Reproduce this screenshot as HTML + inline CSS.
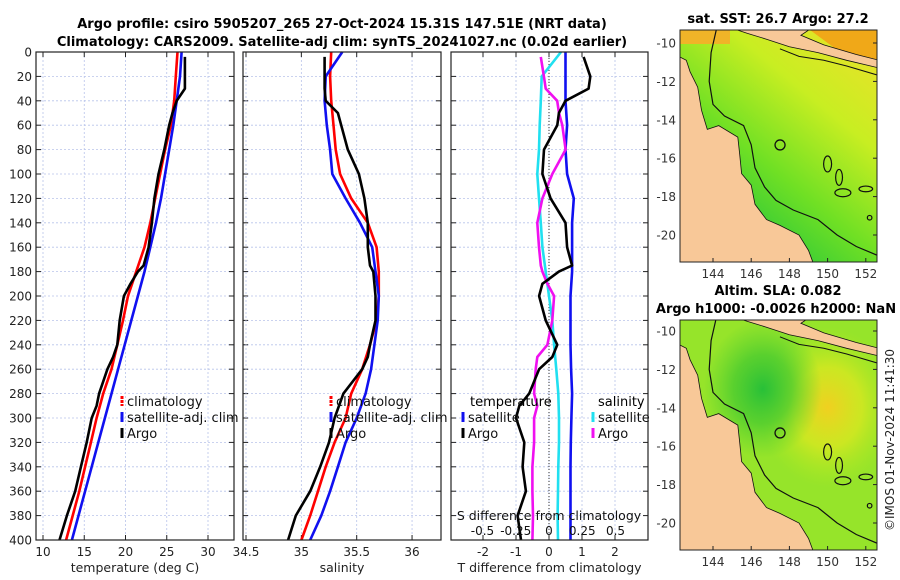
<!DOCTYPE html>
<html><head><meta charset="utf-8"><style>
html,body{margin:0;padding:0;background:#fff;}
svg{display:block;font-family:"DejaVu Sans","Liberation Sans",sans-serif;}
</style></head><body>
<svg id="c" width="900" height="580" viewBox="0 0 900 580" xmlns="http://www.w3.org/2000/svg">
<defs>
<linearGradient id="sstg" x1="1" y1="0" x2="0.3" y2="1">
<stop offset="0" stop-color="#eee02a"/><stop offset="0.35" stop-color="#c8ee22"/><stop offset="0.65" stop-color="#70e024"/><stop offset="1" stop-color="#18c040"/>
</linearGradient>
<radialGradient id="slay" cx="0.75" cy="0.38" r="0.35"><stop offset="0" stop-color="#f0d020"/><stop offset="0.5" stop-color="#d8e820" stop-opacity="0.8"/><stop offset="1" stop-color="#b0ea20" stop-opacity="0"/></radialGradient>
<radialGradient id="slag" cx="0.42" cy="0.3" r="0.3"><stop offset="0" stop-color="#28c038"/><stop offset="0.5" stop-color="#40c830" stop-opacity="0.7"/><stop offset="1" stop-color="#50d030" stop-opacity="0"/></radialGradient>
<clipPath id="cm1"><rect x="680" y="30" width="197" height="232"/></clipPath>
<clipPath id="cm2"><rect x="680" y="320" width="197" height="230"/></clipPath>
</defs>
<g id="titles">
<text x="342" y="28" text-anchor="middle" font-size="13" font-weight="bold">Argo profile: csiro 5905207_265 27-Oct-2024 15.31S 147.51E (NRT data)</text>
<text x="342" y="46" text-anchor="middle" font-size="13" font-weight="bold">Climatology: CARS2009. Satellite-adj clim: synTS_20241027.nc (0.02d earlier)</text>
<text x="778" y="23" text-anchor="middle" font-size="13" font-weight="bold">sat. SST: 26.7 Argo: 27.2</text>
<text x="778" y="295" text-anchor="middle" font-size="13" font-weight="bold">Altim. SLA: 0.082</text>
<text x="776" y="313" text-anchor="middle" font-size="13" font-weight="bold">Argo h1000: -0.0026 h2000: NaN</text>
<text transform="translate(894,440) rotate(-90)" text-anchor="middle" font-size="12" fill="#222">©IMOS 01-Nov-2024 11:41:30</text>
</g>
<g id="plots"></g>
<g id="maps"></g>
</svg>
<script>
// ---------- data ----------
const depths = [0,20,40,60,80,100,120,140,160,180,200,220,240,260,280,300,320,340,360,380,400];
const tempClim = [26.3,26.1,25.9,25.5,24.8,24.2,23.6,23.0,22.3,21.3,20.3,19.7,19.0,18.3,17.3,16.5,15.8,15.1,14.4,13.6,12.8];
const tempSat = [26.8,26.6,26.2,25.8,25.3,24.8,24.3,23.7,23.0,22.3,21.5,20.7,19.9,19.1,18.3,17.5,16.7,15.9,15.1,14.3,13.5];
const argoDepths = [4,20,30,40,50,60,80,100,120,140,160,175,180,190,200,220,240,250,260,280,290,300,320,340,360,380,400];
const tempArgo = [27.2,27.2,27.2,26.2,25.7,25.3,24.7,24.0,23.5,23.2,22.8,22.2,21.5,20.6,19.8,19.3,19.0,18.5,17.8,16.8,16.5,15.9,15.3,14.6,13.9,12.9,12.0];
const salClim = [35.27,35.26,35.27,35.29,35.31,35.35,35.45,35.6,35.68,35.7,35.7,35.68,35.62,35.55,35.45,35.4,35.3,35.22,35.15,35.08,35.0];
const salSat = [35.37,35.22,35.21,35.23,35.26,35.28,35.4,35.53,35.64,35.67,35.7,35.69,35.66,35.63,35.58,35.5,35.4,35.33,35.26,35.18,35.08];
const salArgo = [35.21,35.21,35.21,35.22,35.33,35.36,35.42,35.52,35.57,35.6,35.6,35.62,35.65,35.66,35.67,35.67,35.62,35.6,35.55,35.38,35.34,35.3,35.25,35.17,35.08,34.95,34.88];
const tDiffSat = [0.5,0.5,0.5,0.55,0.5,0.55,0.75,0.7,0.7,0.7,0.65,0.65,0.65,0.67,0.7,0.68,0.66,0.65,0.65,0.65,0.65];
const tDiffArgo = [1.05,1.25,1.2,0.5,0.3,0.25,-0.15,-0.2,0.05,0.5,0.55,0.7,0.3,-0.2,-0.3,-0.1,0.25,0.1,-0.3,-0.6,-0.9,-1.0,-0.75,-0.8,-0.7,-0.95,-0.85];
const sDiffSat = [0.09,-0.055,-0.062,-0.07,-0.075,-0.088,-0.075,-0.062,-0.05,-0.025,0,0.025,0.038,0.055,0.07,0.075,0.075,0.07,0.068,0.065,0.068];
const sDiffArgo = [-0.062,-0.038,-0.025,0.062,0.075,0.1,0.125,0.025,-0.05,-0.088,-0.075,-0.062,-0.05,-0.012,0.038,0.025,-0.012,-0.088,-0.1,-0.112,-0.088,-0.112,-0.112,-0.125,-0.125,-0.12,-0.125];
const depthTicks = [0,20,40,60,80,100,120,140,160,180,200,220,240,260,280,300,320,340,360,380,400];
const tempTicks = [10,15,20,25,30];
const salTicks = [34.5,35,35.5,36];
const tdTicks = [-2,-1,0,1,2];
const sdTicks = [-0.5,-0.25,0,0.25,0.5];

const NS="http://www.w3.org/2000/svg";
function mk(tag,attrs,parent,txt){const e=document.createElementNS(NS,tag);for(const k in attrs)e.setAttribute(k,attrs[k]);if(txt!==undefined)e.textContent=txt;parent.appendChild(e);return e;}
const plots=document.getElementById('plots');
const yD = d => 52 + d*(540-52)/400;
const xT = v => 43 + (v-10)*8.25;
const xS = v => 246 + (v-34.5)*110.7;
const xTD = v => 549 + v*33;
const xSD = v => 549 + v*133;

function panel(x0,x1,name,xf,ticks,xlab,showY){
  const g=mk('g',{},plots);
  
  
  depthTicks.forEach(d=>{mk('line',{x1:x0,x2:x1,y1:yD(d),y2:yD(d),stroke:'#b8c4ea','stroke-width':0.8,'stroke-dasharray':'2,2'},g);
    mk('line',{x1:x0,x2:x0+5,y1:yD(d),y2:yD(d),stroke:'#222'},g);mk('line',{x1:x1-5,x2:x1,y1:yD(d),y2:yD(d),stroke:'#222'},g);
    if(showY){const t=mk('text',{x:x0-4,y:yD(d)+4.5,'text-anchor':'end','font-size':12,fill:'#222'},g,String(d));}
  });
  ticks.forEach(v=>{const x=xf(v);mk('line',{x1:x,x2:x,y1:52,y2:540,stroke:'#b8c4ea','stroke-width':0.8,'stroke-dasharray':'2,2'},g);
    mk('line',{x1:x,x2:x,y1:540,y2:535,stroke:'#222'},g);mk('line',{x1:x,x2:x,y1:52,y2:57,stroke:'#222'},g);
    const t=mk('text',{x:x,y:556,'text-anchor':'middle','font-size':12,fill:'#222'},g,String(v));});
  const l=mk('text',{x:(x0+x1)/2,y:572,'text-anchor':'middle','font-size':12.5,fill:'#222'},g,xlab);
  
  return g;
}
function line(g,xs,ds,xf,color,name){
  const p=mk('polyline',{points:xs.map((v,i)=>xf(v).toFixed(1)+','+yD(ds[i]).toFixed(1)).join(' '),fill:'none',stroke:color,'stroke-width':2.6,'stroke-linejoin':'round'},g);
  
}
function frame(g,x0,x1){mk('rect',{x:x0,y:52,width:x1-x0,height:488,fill:'none',stroke:'#222','stroke-width':1.2},g);}
function legend(g,x,y,items){items.forEach((it,i)=>{
  const e=mk('g',{},g);
  mk('line',{x1:x,x2:x,y1:y+i*16-10,y2:y+i*16,stroke:it[0],'stroke-width':3,'stroke-dasharray':it[2]||''},e);
  mk('text',{x:x+5,y:y+i*16,'font-size':13,fill:'#111'},e,it[1]);});}

// panel 1
let g1=panel(36,234,'temperature-panel',xT,tempTicks,'temperature (deg C)',true);
line(g1,tempClim,depths,xT,'#f00','temp-climatology-line');
line(g1,tempSat,depths,xT,'#1010f0','temp-satellite-line');
line(g1,tempArgo,argoDepths,xT,'#000','temp-argo-line');
legend(g1,122,406,[['#f00','climatology','3,1'],['#1010f0','satellite-adj. clim'],['#000','Argo']]);
frame(g1,36,234);
// panel 2
let g2=panel(243,441,'salinity-panel',xS,salTicks,'salinity',false);
line(g2,salClim,depths,xS,'#f00','sal-climatology-line');
line(g2,salSat,depths,xS,'#1010f0','sal-satellite-line');
line(g2,salArgo,argoDepths,xS,'#000','sal-argo-line');
legend(g2,331,406,[['#f00','climatology','3,1'],['#1010f0','satellite-adj. clim'],['#000','Argo']]);
frame(g2,243,441);
// panel 3
let g3=panel(451,648,'difference-panel',xTD,tdTicks,'T difference from climatology',false);
mk('line',{x1:549,x2:549,y1:52,y2:540,stroke:'#333','stroke-width':1,'stroke-dasharray':'1,2'},g3);
line(g3,sDiffSat,depths,xSD,'#20e0f0','sdiff-satellite-line');
line(g3,tDiffSat,depths,xTD,'#1010f0','tdiff-satellite-line');
line(g3,sDiffArgo,argoDepths,xSD,'#f010f0','sdiff-argo-line');
line(g3,tDiffArgo,argoDepths,xTD,'#000','tdiff-argo-line');
mk('text',{x:470,y:406,'font-size':13},g3,'temperature');
mk('text',{x:598,y:406,'font-size':13},g3,'salinity');
legend(g3,463,422,[['#1010f0','satellite'],['#000','Argo']]);
legend(g3,593,422,[['#20e0f0','satellite'],['#f010f0','Argo']]);
const sl=mk('text',{x:549,y:520,'text-anchor':'middle','font-size':12.5,fill:'#111'},g3,'S difference from climatology');

sdTicks.forEach(v=>{const t=mk('text',{x:xSD(v),y:535,'text-anchor':'middle','font-size':12,fill:'#111'},g3,String(v));});
frame(g3,451,648);

// ---------- maps ----------
const maps=document.getElementById('maps');
const latTicks=[-10,-12,-14,-16,-18,-20];
const lonTicks=[144,146,148,150,152];
const coast=[[142.2,-10.7],[142.6,-10.9],[142.8,-11.5],[143.2,-12.3],[143.4,-13.5],[143.7,-14.5],[144.3,-14.3],[145.3,-14.9],[145.4,-15.8],[145.5,-16.8],[146.0,-17.4],[146.2,-18.4],[146.8,-19.2],[147.5,-19.5],[148.5,-20.0],[149.0,-20.8],[149.3,-21.6],[142.2,-21.6]];
const png=[[144.9,-9.2],[149.2,-9.2],[148.6,-9.6],[149.8,-10.1],[151.5,-10.6],[152.7,-10.9],[152.7,-11.3],[151,-10.9],[149.5,-10.5],[148,-10.2],[146.8,-9.8],[145.8,-9.5]];
const shelf=[[144.2,-9.2],[143.9,-10.5],[143.8,-12.0],[144.0,-13.2],[144.6,-13.8],[145.6,-14.3],[146.0,-15.3],[146.2,-16.5],[146.7,-17.5],[147.3,-18.2],[148.2,-18.7],[149.5,-19.2],[150.5,-20.0],[151.5,-20.6],[152.7,-21.1]];
const pngShelf=[[147.5,-10.3],[148.5,-10.7],[149.8,-10.9],[151,-11.2],[152.7,-11.7]];
const reefs=[[150.0,-16.3,0.35,0.7],[150.6,-17.0,0.3,0.7],[150.8,-17.8,0.7,0.35],[152.0,-17.6,0.6,0.25],[152.2,-19.1,0.2,0.2]];
function drawMap(y0,yLat10,name,fillId,extra,clip){
  const g=mk('g',{},maps);
  
  const X=l=>713+(l-144)*19.1, Y=la=>yLat10+(-10-la)*19.2;
  const P=arr=>arr.map(p=>X(p[0]).toFixed(1)+','+Y(p[1]).toFixed(1)).join(' ');
  const c=mk('g',{'clip-path':'url(#'+clip+')'},g);
  mk('rect',{x:680,y:y0,width:197,height:y0===30?232:230,fill:'url(#'+fillId+')'},c);
  extra(c,X,Y);
  mk('polygon',{points:P(coast),fill:'#f8c898',stroke:'#111','stroke-width':0.8},c);
  mk('polygon',{points:P(png),fill:'#f8c898',stroke:'#111','stroke-width':0.8},c);
  mk('polyline',{points:P(shelf),fill:'none',stroke:'#111','stroke-width':1.2},c);
  mk('polyline',{points:P(pngShelf),fill:'none',stroke:'#111','stroke-width':1},c);
  reefs.forEach(r=>mk('ellipse',{cx:X(r[0]),cy:Y(r[1]),rx:r[2]*19*0.6,ry:r[3]*19*0.6,fill:'none',stroke:'#111','stroke-width':1.2},c));
  const pt=mk('circle',{cx:X(147.51),cy:Y(-15.31),r:5,fill:'none',stroke:'#111','stroke-width':1.3},c);
  
  mk('rect',{x:680,y:y0,width:197,height:y0===30?232:230,fill:'none',stroke:'#222','stroke-width':1},g);
  const yb=y0===30?262:550;
  latTicks.forEach(la=>{mk('line',{x1:877,x2:873,y1:Y(la),y2:Y(la),stroke:'#222'},g);
    const t=mk('text',{x:676,y:Y(la)+4.5,'text-anchor':'end','font-size':12,fill:'#333'},g,String(la));});
  lonTicks.forEach(lo=>{mk('line',{x1:X(lo),x2:X(lo),y1:yb,y2:yb-4,stroke:'#222'},g);
    const t=mk('text',{x:X(lo),y:yb+16,'text-anchor':'middle','font-size':12,fill:'#333'},g,String(lo));});
}
drawMap(30,43,'sst-map','sstg',(c,X,Y)=>{
  mk('rect',{x:680,y:30,width:50,height:14,fill:'#f0b428'},c);
  mk('polygon',{points:'810,30 877,30 877,62 840,52',fill:'#f0a818'},c);
},'cm1');
drawMap(320,331,'sla-map','none',(c,X,Y)=>{
  mk('rect',{x:680,y:320,width:197,height:230,fill:'#96e42a'},c);
  mk('rect',{x:680,y:320,width:197,height:230,fill:'url(#slay)'},c);
  mk('rect',{x:680,y:320,width:197,height:230,fill:'url(#slag)'},c);
},'cm2');
</script>
</body></html>
